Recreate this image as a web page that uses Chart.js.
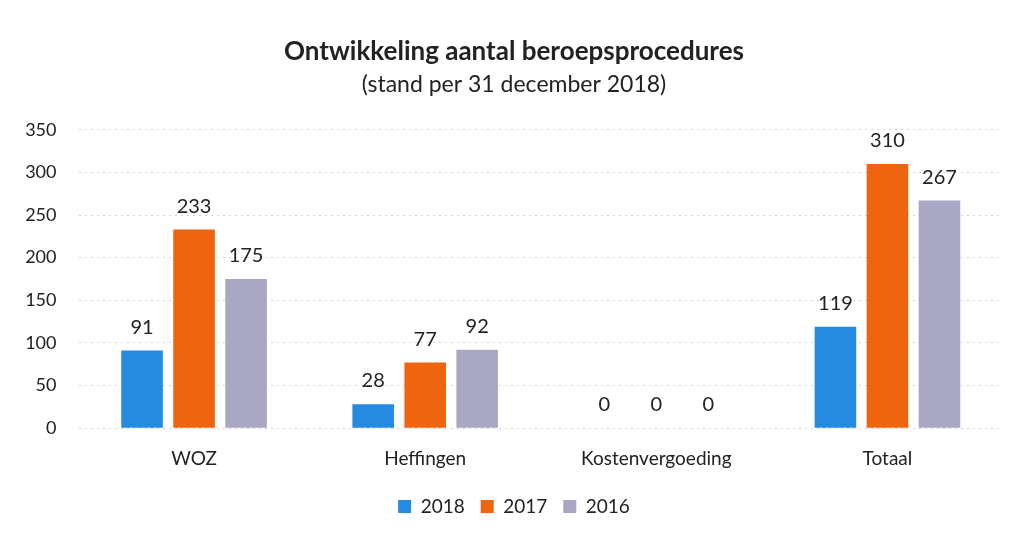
<!DOCTYPE html>
<html><head><meta charset="utf-8">
<script src="https://cdn.jsdelivr.net/npm/chart.js@4"></script>
<style>html,body{margin:0;padding:0;background:#fff;}#wrap{width:1018px;height:535px;}</style>
</head><body><div id="wrap"><canvas id="c" width="1018" height="535"></canvas></div>
<script>
const categories = ["WOZ", "Heffingen", "Kostenvergoeding", "Totaal"];
const series2018 = [91, 28, 0, 119];
const series2017 = [233, 77, 0, 310];
const series2016 = [175, 92, 0, 267];
const seriesNames = ["2018", "2017", "2016"];
const yTicks = [0, 50, 100, 150, 200, 250, 300, 350];

const FONT = "Lato, 'Open Sans', sans-serif";
const labelPlugin = {
  id: 'vals',
  afterDatasetsDraw(chart) {
    const ctx = chart.ctx;
    ctx.save();
    ctx.font = "20px " + FONT;
    ctx.fillStyle = "#222";
    ctx.textAlign = "center";
    ctx.textBaseline = "alphabetic";
    chart.data.datasets.forEach((ds, i) => {
      chart.getDatasetMeta(i).data.forEach((bar, j) => {
        ctx.fillText(String(ds.data[j]), bar.x, bar.y - 17);
      });
    });
    ctx.restore();
  }
};

new Chart(document.getElementById('c'), {
  type: 'bar',
  data: {
    labels: categories,
    datasets: [
      {label: seriesNames[0], data: series2018, backgroundColor: '#248be0'},
      {label: seriesNames[1], data: series2017, backgroundColor: '#ef650f'},
      {label: seriesNames[2], data: series2016, backgroundColor: '#a9a7c3'}
    ]
  },
  options: {
    responsive: false,
    animation: false,
    layout: {padding: {left: 25, right: 15, top: 6, bottom: 9}},
    datasets: {bar: {categoryPercentage: 0.675, barPercentage: 0.8}},
    plugins: {
      title: {display: true, text: "Ontwikkeling aantal beroepsprocedures", color: '#222',
        font: {family: FONT, size: 26, weight: 'bold'}, padding: {top: 30, bottom: 4}},
      subtitle: {display: true, text: "(stand per 31 december 2018)", color: '#222',
        font: {family: FONT, size: 23}, padding: {bottom: 31}},
      legend: {position: 'bottom', labels: {boxWidth: 13, boxHeight: 13, color: '#222',
        font: {family: FONT, size: 19}, padding: 16}},
      tooltip: {enabled: false}
    },
    scales: {
      x: {grid: {display: false}, border: {display: false},
        ticks: {color: '#222', font: {family: FONT, size: 19}, padding: 11}},
      y: {min: 0, max: 350, afterBuildTicks: (s) => { s.ticks = yTicks.map(v => ({value: v})); },
        afterFit: (s) => { s.width = 53.5; },
        grid: {color: '#d4d4d4', drawTicks: false}, border: {display: false, dash: [2, 4]},
        ticks: {color: '#222', font: {family: FONT, size: 18}, padding: 22}}
    }
  },
  plugins: [labelPlugin]
});
</script></body></html>
